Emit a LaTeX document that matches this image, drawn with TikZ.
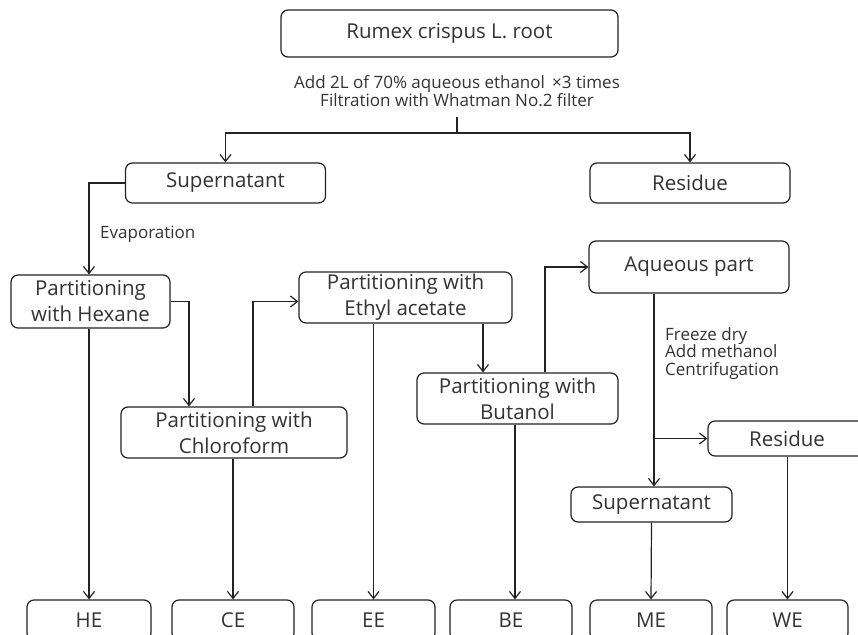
\documentclass[tikz,border=0pt]{standalone}
\usepackage{fontspec}
\setmainfont{Open Sans}
\usetikzlibrary{arrows.meta,calc}
\definecolor{ink}{HTML}{222222}
\definecolor{txt}{HTML}{333333}
\tikzset{
  box/.style={draw=ink, line width=1.2pt, rounded corners=7pt, inner sep=0pt,
              align=center, text=txt, font=\fontsize{20.5}{26}\selectfont},
  lbl/.style={inner sep=0pt, text=txt, font=\fontsize{17}{17.5}\selectfont},
  conn/.style={draw=ink, line width=1.2pt},
  arr/.style={conn, -{Straight Barb[length=7pt,width=11pt,line width=1.2pt]}},
}
\begin{document}
\begin{tikzpicture}[x=1pt,y=-1pt]
\clip (0,0) rectangle (858,634);
\fill[white] (0,0) rectangle (858,634);

\node[box, minimum width=337, minimum height=47] (root) at (449.5,33.5) {Rumex crispus L. root};
\node[lbl, align=center] (cond) at (457,91) {Add 2L of 70\% aqueous ethanol \,×3 times\\Filtration with Whatman No.2 filter};
\coordinate (brtop) at (457,117);
\coordinate (br) at (457,133);

\node[box, minimum width=200, minimum height=40] (sup1) at (225.5,183) {Supernatant};
\node[box, minimum width=200, minimum height=40] (res1) at (690,183) {Residue};

\node[box, minimum width=159, minimum height=53] (hex) at (90.5,301.5) {Partitioning\\with Hexane};
\node[lbl, anchor=west] (evap) at (100,234) {Evaporation};

\node[box, minimum width=226, minimum height=51] (chl) at (234,432.5) {Partitioning with\\Chloroform};
\node[box, minimum width=213, minimum height=51] (eth) at (405.5,297.5) {Partitioning with\\Ethyl acetate};
\node[box, minimum width=201, minimum height=51] (but) at (517.5,398.5) {Partitioning with\\Butanol};
\node[box, minimum width=200, minimum height=52] (aq) at (689,267) {Aqueous part};
\node[lbl, anchor=north west, align=left] (frz) at (665,327) {Freeze dry\\Add methanol\\Centrifugation};
\node[box, minimum width=158, minimum height=35] (res2) at (787,438.5) {Residue};
\node[box, minimum width=161, minimum height=35] (sup2) at (651.5,504.5) {Supernatant};

\node[box, minimum width=124, minimum height=40] (he) at (89,620) {HE};
\node[box, minimum width=122, minimum height=40] (ce) at (233,620) {CE};
\node[box, minimum width=123, minimum height=40] (ee) at (373.5,620) {EE};
\node[box, minimum width=122, minimum height=40] (be) at (511,620) {BE};
\node[box, minimum width=122, minimum height=40] (me) at (651,620) {ME};
\node[box, minimum width=121, minimum height=40] (we) at (787.5,620) {WE};

% connectors
\draw[conn] (brtop) -- (br);
\draw[arr] (br) -| (sup1.north);
\draw[arr] (br) -| (res1.north);
\draw[arr] (sup1.west) -| ([xshift=-1.5pt]hex.north);
\draw[arr] (hex.east) -| ([xshift=-45pt]chl.north);
\draw[arr] ([xshift=19pt]chl.north) |- ([yshift=-4pt]eth.west);
\draw[arr] ([xshift=77.5pt]eth.south) -- ([xshift=77.5pt]eth.south |- but.north);
\draw[arr] ([xshift=27.5pt]but.north) |- (aq.west);
\coordinate (aqx) at ([xshift=-35pt]aq.south);
\draw[arr] (aqx) -- (aqx |- sup2.north);
\draw[arr] (aqx |- res2.west) -- (res2.west);

\draw[arr] (he.north |- hex.south) -- (he.north);
\draw[arr] (ce.north |- chl.south) -- (ce.north);
\draw[arr] (ee.north |- eth.south) -- (ee.north);
\draw[arr] ([xshift=-2.5pt]but.south) -- ([xshift=-2.5pt]but.south |- be.north);
\draw[arr] (sup2.south) -- (me.north);
\draw[arr] (we.north |- res2.south) -- (we.north);
\end{tikzpicture}
\end{document}
